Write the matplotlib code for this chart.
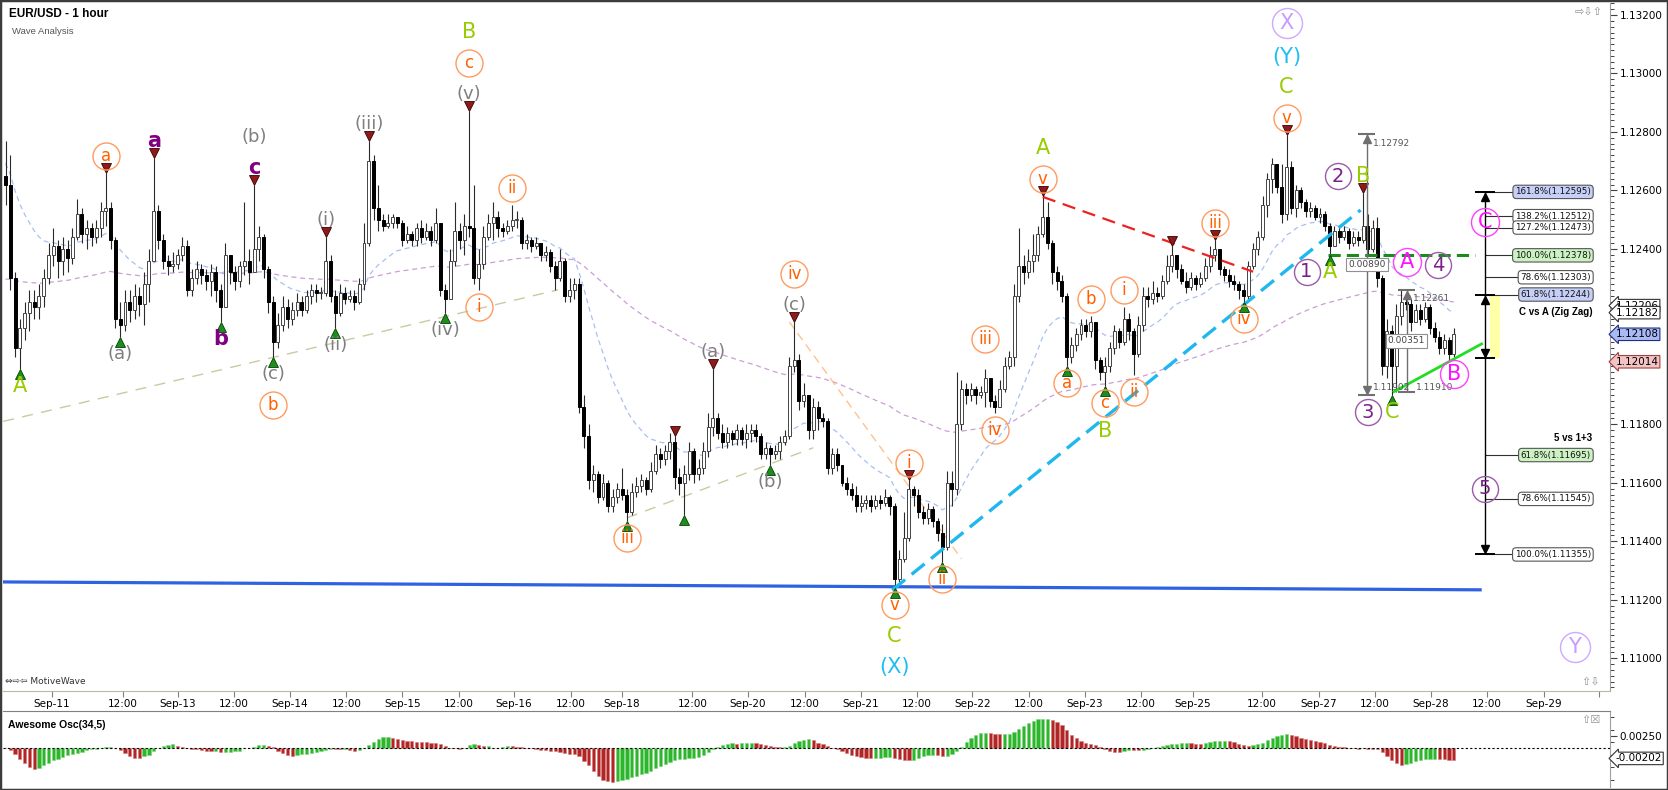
import matplotlib
matplotlib.use('Agg')
import matplotlib.pyplot as plt
import numpy as np
import pandas as pd
from matplotlib.patches import Rectangle
from matplotlib.ticker import MultipleLocator, FixedLocator
from matplotlib.transforms import offset_copy, blended_transform_factory

# ---------------- data : EUR/USD 1 hour, prices in 1/10000 (11262 = 1.1262)
open0 = 11265
close_p = [
    11262, 11230, 11206, 11213, 11218, 11222, 11220, 11224, 11230, 11238,
    11241, 11236, 11240, 11237, 11244, 11252, 11245, 11247, 11244, 11247,
    11253, 11254, 11243, 11216, 11214, 11222, 11219, 11224, 11221, 11228,
    11236, 11253, 11243, 11236, 11234, 11235, 11238, 11241, 11226, 11230,
    11233, 11231, 11229, 11232, 11226, 11220, 11238, 11232, 11229, 11234,
    11236, 11232, 11240, 11244, 11233, 11222, 11208, 11214, 11220, 11216,
    11219, 11222, 11219, 11224, 11226, 11225, 11225, 11236, 11224, 11218,
    11225, 11223, 11224, 11222, 11228, 11242, 11270, 11254, 11250, 11248,
    11249, 11251, 11249, 11243, 11245, 11243, 11247, 11244, 11246, 11243,
    11249, 11226, 11223, 11236, 11246, 11243, 11248, 11247, 11230, 11235,
    11244, 11249, 11251, 11247, 11246, 11248, 11250, 11250, 11242, 11243,
    11241, 11242, 11238, 11239, 11234, 11230, 11236, 11224, 11226, 11228,
    11186, 11176, 11161, 11163, 11155, 11160, 11152, 11155, 11158, 11156,
    11150, 11157, 11159, 11161, 11158, 11164, 11170, 11168, 11171, 11174,
    11162, 11160, 11163, 11171, 11163, 11165, 11171, 11179, 11182, 11177,
    11174, 11177, 11175, 11178, 11175, 11177, 11178, 11176, 11170, 11172,
    11170, 11171, 11174, 11176, 11200, 11202, 11188, 11190, 11178, 11186,
    11182, 11181, 11165, 11170, 11166, 11160, 11158, 11156, 11152, 11153,
    11154, 11152, 11154, 11153, 11155, 11152, 11127, 11134, 11141, 11158,
    11156, 11150, 11148, 11151, 11147, 11143, 11138, 11160, 11158, 11180,
    11192, 11190, 11192, 11190, 11191, 11196, 11188, 11186, 11192, 11200,
    11203, 11224, 11234, 11232, 11236, 11238, 11245, 11251, 11242, 11232,
    11229, 11224, 11203, 11207, 11211, 11214, 11212, 11215, 11202, 11198,
    11200, 11206, 11212, 11208, 11216, 11212, 11204, 11214, 11224, 11223,
    11225, 11224, 11229, 11234, 11238, 11233, 11229, 11227, 11230, 11228,
    11230, 11234, 11238, 11240, 11233, 11231, 11229, 11228, 11226, 11224,
    11234, 11240, 11244, 11255, 11264, 11269, 11261, 11252, 11268, 11254,
    11260, 11256, 11253, 11254, 11251, 11252, 11248, 11241, 11246, 11244,
    11246, 11242, 11244, 11243, 11248, 11240, 11247, 11230, 11200, 11212,
    11200, 11217, 11222, 11221, 11215, 11219, 11216, 11220, 11213, 11210,
    11206, 11209, 11204, 11211]
high_p = [
    11277, 11272, 11232, 11216, 11222, 11226, 11226, 11228, 11233, 11242,
    11247, 11243, 11244, 11243, 11247, 11257, 11254, 11250, 11249, 11250,
    11256, 11266, 11256, 11244, 11222, 11226, 11226, 11228, 11227, 11232,
    11240, 11271, 11255, 11245, 11238, 11239, 11240, 11244, 11243, 11233,
    11236, 11235, 11233, 11235, 11234, 11228, 11242, 11238, 11234, 11236,
    11256, 11240, 11262, 11248, 11245, 11234, 11224, 11218, 11224, 11223,
    11222, 11225, 11224, 11226, 11228, 11228, 11227, 11244, 11238, 11226,
    11228, 11227, 11226, 11226, 11230, 11249, 11277, 11272, 11262, 11252,
    11252, 11252, 11251, 11250, 11248, 11246, 11249, 11250, 11249, 11248,
    11254, 11249, 11228, 11240, 11256, 11249, 11252, 11287, 11262, 11240,
    11248, 11252, 11256, 11253, 11249, 11250, 11255, 11253, 11251, 11245,
    11244, 11244, 11242, 11241, 11240, 11236, 11240, 11237, 11230, 11230,
    11230, 11190, 11180, 11166, 11164, 11163, 11161, 11158, 11160, 11165,
    11158, 11160, 11162, 11163, 11162, 11167, 11173, 11172, 11173, 11177,
    11176, 11165, 11166, 11174, 11172, 11168, 11174, 11184, 11199, 11184,
    11180, 11179, 11178, 11180, 11179, 11180, 11180, 11180, 11177, 11174,
    11173, 11173, 11176, 11178, 11203, 11215, 11204, 11194, 11190, 11189,
    11188, 11184, 11182, 11172, 11172, 11166, 11162, 11160, 11159, 11156,
    11156, 11156, 11156, 11156, 11158, 11156, 11153, 11137, 11150, 11161,
    11159, 11158, 11152, 11153, 11152, 11148, 11146, 11164, 11164, 11198,
    11195, 11194, 11194, 11193, 11193, 11199, 11196, 11190, 11195, 11203,
    11205, 11228, 11247, 11238, 11240, 11245, 11248, 11258, 11256, 11243,
    11234, 11231, 11225, 11210, 11213, 11216, 11216, 11217, 11215, 11203,
    11203, 11208, 11214, 11213, 11220, 11218, 11213, 11217, 11227, 11227,
    11229, 11227, 11231, 11238, 11241, 11237, 11235, 11232, 11232, 11231,
    11232, 11237, 11241, 11243, 11240, 11234, 11233, 11231, 11229, 11228,
    11236, 11242, 11246, 11258, 11266, 11271, 11269, 11269, 11279, 11270,
    11262, 11261, 11257, 11256, 11255, 11254, 11253, 11249, 11248, 11248,
    11248, 11247, 11246, 11246, 11259, 11252, 11250, 11251, 11231, 11216,
    11214, 11221, 11226, 11224, 11223, 11221, 11221, 11222, 11221, 11215,
    11212, 11211, 11210, 11213]
low_p = [
    11255, 11226, 11203, 11199, 11209, 11212, 11216, 11216, 11220, 11228,
    11234, 11230, 11231, 11232, 11235, 11243, 11242, 11240, 11241, 11242,
    11244, 11248, 11240, 11213, 11210, 11212, 11215, 11216, 11217, 11214,
    11222, 11236, 11240, 11233, 11231, 11232, 11233, 11236, 11224, 11224,
    11228, 11228, 11226, 11224, 11222, 11215, 11220, 11228, 11226, 11227,
    11231, 11228, 11232, 11236, 11230, 11218, 11203, 11206, 11212, 11213,
    11214, 11217, 11217, 11218, 11221, 11222, 11223, 11224, 11222, 11213,
    11217, 11221, 11222, 11219, 11221, 11226, 11241, 11250, 11246, 11246,
    11247, 11247, 11247, 11241, 11242, 11241, 11241, 11242, 11243, 11241,
    11242, 11224, 11218, 11225, 11234, 11240, 11238, 11244, 11228, 11226,
    11233, 11243, 11243, 11244, 11244, 11245, 11246, 11247, 11240, 11240,
    11239, 11240, 11236, 11236, 11232, 11226, 11229, 11222, 11222, 11223,
    11184, 11172, 11158, 11157, 11153, 11154, 11150, 11150, 11153, 11154,
    11147, 11149, 11155, 11157, 11156, 11157, 11163, 11165, 11166, 11168,
    11158, 11156, 11149, 11161, 11160, 11161, 11163, 11169, 11176, 11175,
    11172, 11172, 11173, 11173, 11173, 11172, 11174, 11174, 11168, 11168,
    11166, 11168, 11168, 11173, 11175, 11198, 11185, 11186, 11175, 11175,
    11178, 11179, 11163, 11163, 11164, 11159, 11156, 11154, 11150, 11150,
    11151, 11150, 11151, 11151, 11152, 11149, 11124, 11126, 11133, 11140,
    11152, 11148, 11146, 11146, 11145, 11140, 11133, 11137, 11152, 11156,
    11178, 11187, 11188, 11187, 11189, 11186, 11186, 11184, 11186, 11191,
    11199, 11200, 11222, 11228, 11230, 11232, 11236, 11244, 11240, 11228,
    11226, 11222, 11200, 11201, 11205, 11209, 11210, 11210, 11199, 11195,
    11193, 11198, 11204, 11206, 11207, 11209, 11197, 11203, 11212, 11220,
    11221, 11222, 11223, 11228, 11232, 11230, 11228, 11225, 11226, 11226,
    11227, 11229, 11232, 11236, 11231, 11229, 11227, 11226, 11223, 11222,
    11223, 11233, 11238, 11243, 11251, 11259, 11259, 11249, 11250, 11252,
    11251, 11254, 11251, 11251, 11250, 11249, 11246, 11238, 11242, 11242,
    11243, 11240, 11241, 11241, 11242, 11238, 11239, 11227, 11197, 11196,
    11190, 11191, 11214, 11219, 11212, 11215, 11214, 11215, 11211, 11208,
    11204, 11204, 11202, 11203]

# moving average / oscillator seeds (level before the visible window)
ma_fast_seed = 1.1270
ma_slow_seed = 1.1229
ao_seed = 1.1265

date_tick_pos = [9.7, 24.5, 36.1, 47.8, 59.5, 71.3, 83.0, 94.8, 106.4, 118.3,
                 129.0, 143.7, 155.3, 167.2, 178.9, 190.6, 202.3, 214.1,
                 225.8, 237.6, 248.4, 262.9, 274.7, 286.5, 298.2, 309.9,
                 321.8, 333.4]
date_tick_lab = ['Sep-11', '12:00', 'Sep-13', '12:00', 'Sep-14', '12:00',
                 'Sep-15', '12:00', 'Sep-16', '12:00', 'Sep-18', '12:00',
                 'Sep-20', '12:00', 'Sep-21', '12:00', 'Sep-22', '12:00',
                 'Sep-23', '12:00', 'Sep-25', '12:00', 'Sep-27', '12:00',
                 'Sep-28', '12:00', 'Sep-29', '']

# pivots marked with triangles
pivot_hi = [21, 31, 52, 67, 76, 97, 140, 148, 165, 189, 217, 244, 253, 268, 284]
pivot_lo = [3, 24, 45, 56, 69, 92, 130, 142, 160, 186, 196, 222, 230, 259, 277, 290]

# wave labels: bar, side (h/l), stack level, x shift px, text, style
wave_tags = [
    (3, 'l', 0, 0, 'A', 'gl'), (21, 'h', 0, 0, 'a', 'oc'),
    (24, 'l', 0, 0, '(a)', 'gp'), (31, 'h', 0, 0, 'a', 'pl'),
    (45, 'l', 0, 0, 'b', 'pl'), (52, 'h', 0, 0, 'c', 'pl'),
    (52, 'h', 1, 0, '(b)', 'gp'), (56, 'l', 0, 0, '(c)', 'gp'),
    (56, 'l', 1, 0, 'b', 'oc'), (67, 'h', 0, 0, '(i)', 'gp'),
    (69, 'l', 0, 0, '(ii)', 'gp'), (76, 'h', 0, 0, '(iii)', 'gp'),
    (92, 'l', 0, 0, '(iv)', 'gp'), (97, 'h', 0, 0, '(v)', 'gp'),
    (97, 'h', 1, 0, 'c', 'oc'), (97, 'h', 2, 0, 'B', 'gl'),
    (99, 'l', 0, 0, 'i', 'oc'), (106, 'h', 0, 0, 'ii', 'oc'),
    (130, 'l', 0, 0, 'iii', 'oc'), (148, 'h', 0, 0, '(a)', 'gp'),
    (160, 'l', 0, 0, '(b)', 'gp'), (165, 'h', 0, 0, '(c)', 'gp'),
    (165, 'h', 1, 0, 'iv', 'oc'), (186, 'l', 0, 0, 'v', 'oc'),
    (186, 'l', 1, 0, 'C', 'gl'), (186, 'l', 2, 0, '(X)', 'cy'),
    (189, 'h', 0, 0, 'i', 'oc'), (196, 'l', 0, 0, 'ii', 'oc'),
    (205, 'h', 0.4, 0, 'iii', 'oc'), (207, 'l', 0, 0, 'iv', 'oc'),
    (217, 'h', 0, 0, 'v', 'oc'), (217, 'h', 1, 0, 'A', 'gl'),
    (222, 'l', 0, 0, 'a', 'oc'), (227, 'h', 0, 0, 'b', 'oc'),
    (230, 'l', 0, 0, 'c', 'oc'), (230, 'l', 0.9, 0, 'B', 'gl'),
    (234, 'h', 0, 0, 'i', 'oc'), (236, 'l', 0, 0, 'ii', 'oc'),
    (253, 'h', 0, 0, 'iii', 'oc'), (259, 'l', 0, 0, 'iv', 'oc'),
    (268, 'h', 0, 0, 'v', 'oc'), (268, 'h', 1, 0, 'C', 'gl'),
    (268, 'h', 1.95, 0, '(Y)', 'cy'), (268, 'h', 3.05, 0, 'X', 'lv'),
    (277, 'l', 0, 0, 'A', 'gl'), (277, 'l', 0, -23, '1', 'pn'),
    (284, 'h', 0, 0, 'B', 'gl'), (284, 'h', 0, -25, '2', 'pn'),
    (290, 'l', 0, 0, 'C', 'gl'), (290, 'l', 0, -24, '3', 'pn'),
    (292, 'h', 0.35, 6, 'A', 'mg'), (292, 'h', 0.25, 37, '4', 'pn'),
    (303, 'l', 0, 0, 'B', 'mg'),
]

# drawn lines (bar, price) pairs
support_line = ([-0.5, 308.5], [1.11261, 1.11234])
wedge_line_1 = ([-0.5, 115.6], [1.11810, 1.12260])
wedge_line_2 = ([130, 169], [1.11480, 1.11720])
peach_line = ([164, 200], [1.12150, 1.11340])
red_line = ([217, 261], [1.12578, 1.12322])
cyan_line = ([185.5, 283.5], [1.11233, 1.12533])
lime_line = ([290.5, 308.8], [1.11912, 1.12075])
wave_a_level = ([276.7, 307.4], [1.12378, 1.12378])

# measure tools
measure_a = (284.8, 1.12792, 1.11902, '0.00890')
measure_b = (293.1, 1.12261, 1.11910, '0.00351')

# fibonacci projections
fib_x = 309.5
zz_names = ['161.8%', '138.2%', '127.2%', '100.0%', '78.6%', '61.8%']
zz_levels = [1.12595, 1.12512, 1.12473, 1.12378, 1.12303, 1.12244]
w5_names = ['61.8%', '78.6%', '100.0%']
w5_levels = [1.11695, 1.11545, 1.11355]
w5_start = 1.12028

price_marks = [1.12206, 1.12182, 1.12108, 1.12014]
ao_last = -0.00202

# ---------------- arrays
close = np.array(close_p) / 10000
opens = np.r_[open0 / 10000, close[:-1]]
high = np.maximum(np.array(high_p) / 10000, np.maximum(opens, close))
low = np.minimum(np.array(low_p) / 10000, np.minimum(opens, close))
idx = np.arange(len(close))

# ---------------- figure
W, H = 1668, 790
BW, X0 = 4.78, 5.5   # px per bar, px of bar 0
fig = plt.figure(figsize=(W / 100, H / 100), dpi=100)


def box(l, t, r, b):
    return [l / W, 1 - b / H, (r - l) / W, (b - t) / H]


ax = fig.add_axes(box(3, 3, 1610, 691))
ax2 = fig.add_axes(box(3, 711, 1610, 787))
xlim = ((3 - X0) / BW, (1610 - X0) / BW)


def px(dx, dy, a=None):
    return offset_copy((a or ax).transData, fig=fig, x=dx, y=dy, units='dots')


# candles
up = close >= opens
ax.vlines(idx, low, high, color='#2a2a2a', lw=0.8, zorder=3)
bot = np.minimum(opens, close)
hgt = np.maximum(np.abs(close - opens), 0.00003)
ax.bar(idx[up], hgt[up], 0.62, bot[up], color='white', edgecolor='#444444',
       lw=0.7, zorder=4)
ax.bar(idx[~up], hgt[~up], 0.62, bot[~up], color='black', edgecolor='black',
       lw=0.7, zorder=4)

# moving averages
fast = pd.Series(np.r_[ma_fast_seed, close]).ewm(span=20, adjust=False).mean().values[1:]
slow = pd.Series(np.r_[ma_slow_seed, close]).ewm(span=100, adjust=False).mean().values[1:]
ax.plot(idx, fast, color='#A8C0F2', lw=0.9, ls=(0, (4, 3)), zorder=2)
ax.plot(idx, slow, color='#CC9ED6', lw=0.9, ls=(0, (4, 3)), zorder=2)

# trend lines
ax.plot(*support_line, color='#2F62E2', lw=2.3, zorder=2)
ax.plot(*wedge_line_1, color='#CACAA2', lw=1, ls=(0, (8, 6)), zorder=2)
ax.plot(*wedge_line_2, color='#CACAA2', lw=1, ls=(0, (8, 6)), zorder=2)
ax.plot(*peach_line, color='#FFC28E', lw=1, ls=(0, (6, 4)), zorder=2)
ax.plot(*red_line, color='#EE2020', lw=1.6, ls=(0, (6, 3.5)), zorder=5)
ax.plot(*cyan_line, color='#1FB8EE', lw=2.4, ls=(0, (5, 2.5)), zorder=5)
ax.plot(*lime_line, color='#22DD22', lw=2, zorder=5)
ax.plot(*wave_a_level, color='#1C8A1C', lw=2.2, ls=(0, (4, 2)), zorder=5)

# pivot triangles
ax.plot(pivot_hi, high[pivot_hi], 'v', ms=7, mfc='#8E1B1B', mec='#3A0000',
        mew=0.6, transform=px(0, 5), zorder=6)
ax.plot(pivot_lo, low[pivot_lo], '^', ms=7, mfc='#1E8C1E', mec='#004400',
        mew=0.6, transform=px(0, -5), zorder=6)

STY = {
    'oc': dict(color='#FF6000', size=12, ring='#FF9B5E', d=27),
    'gp': dict(color='#7F7F7F', size=13),
    'pl': dict(color='#800080', size=15, weight='bold'),
    'gl': dict(color='#99CC00', size=15),
    'cy': dict(color='#20BDF0', size=15),
    'lv': dict(color='#C79BFF', size=15, ring='#CDAAFF', d=30),
    'pn': dict(color='#7A1F8A', size=14, ring='#9C5AAA', d=26),
    'mg': dict(color='#FF10FF', size=15, ring='#FF40FF', d=28),
}


def tag(x, y, dx, dy, text, st):
    s = STY[st]
    ax.text(x, y, text, transform=px(dx, dy), ha='center', va='center',
            color=s['color'], fontsize=s['size'],
            fontweight=s.get('weight', 'normal'), zorder=7, clip_on=False)
    if 'ring' in s:
        ax.plot([x], [y], 'o', ms=s['d'] * 0.72, mfc='none', mec=s['ring'],
                mew=1, transform=px(dx, dy), zorder=7, clip_on=False)


for b, side, lev, dx, text, st in wave_tags:
    if side == 'h':
        tag(b, high[b], dx, 17 + 31 * lev, text, st)
    else:
        tag(b, low[b], dx, -(17 + 31 * lev), text, st)

# measure tools
for mx, top, bottom, diff in (measure_a, measure_b):
    ax.vlines(mx, bottom, top, color='#707070', lw=1, zorder=6)
    ax.hlines([top], mx - 1.8, mx + 1.8, color='#707070', lw=1.5, zorder=6)
    ax.plot(mx, top, '^', ms=6, color='#707070', transform=px(0, -5), zorder=6)
    ax.text(mx + 1.3, top, f'{top:.5f}', transform=px(0, -9), fontsize=6.5,
            color='#555555', va='center', ha='left', zorder=6)
    ax.text(mx, (top + bottom) / 2, diff, ha='center', va='center',
            fontsize=6.5, color='#444444', zorder=8,
            bbox=dict(boxstyle='square,pad=0.25', fc='white', ec='#909090', lw=0.8))
mxa, _, bot_a, _ = measure_a
ax.hlines([bot_a], mxa - 1.8, mxa + 1.8, color='#707070', lw=1.5, zorder=6)
ax.plot(mxa, bot_a, 'v', ms=6, color='#707070', transform=px(0, 5), zorder=6)
ax.text(mxa + 1.2, bot_a, f'{bot_a:.5f}', transform=px(0, 7), fontsize=6.5,
        color='#555555', va='center', ha='left', zorder=6)
mxb, _, bot_b, _ = measure_b
ax.hlines([bot_b], mxb - 1.8, mxb + 1.8, color='#707070', lw=1.5, zorder=6)
ax.text(mxb + 1.9, bot_b, f'{bot_b:.5f}', transform=px(0, 5), fontsize=6.5,
        color='#555555', va='center', ha='left', zorder=6)

# fibonacci tools
ax.add_patch(Rectangle((310.6, w5_start), 2.1, zz_levels[-1] - w5_start,
                       fc='#FFFFA8', ec='none', zorder=2))
ax.vlines(fib_x, w5_levels[-1], zz_levels[0], color='black', lw=1, zorder=6)
ax.hlines([zz_levels[0], zz_levels[-1], w5_start, w5_levels[-1]],
          fib_x - 2.1, fib_x + 2.1, color='black', lw=1.4, zorder=6)
for lv, mk, dy in ((zz_levels[0], '^', -5), (zz_levels[-1], '^', -5),
                   (w5_start, 'v', 5), (w5_levels[-1], 'v', 5)):
    ax.plot(fib_x, lv, mk, ms=6, color='black', transform=px(0, dy), zorder=6)
fib_lab_x = (1591 - X0) / BW
zz_fill = ['#C5CFF7', 'white', 'white', '#CCF2C4', 'white', '#C5CFF7']
w5_fill = ['#CCF2C4', 'white', 'white']
for names, levels, fills in ((zz_names, zz_levels, zz_fill),
                             (w5_names, w5_levels, w5_fill)):
    ax.hlines(levels, fib_x, 322, color='#303030', lw=0.8, zorder=5)
    for n, lv, fc in zip(names, levels, fills):
        ax.text(fib_lab_x, lv, f'{n}({lv:.5f})', ha='right', va='center',
                fontsize=6.3, color='#111111', zorder=8,
                bbox=dict(boxstyle='round,pad=0.25,rounding_size=0.4',
                          fc=fc, ec='#555555', lw=0.8))
ax.text(fib_lab_x + 0.3, zz_levels[-1], 'C vs A (Zig Zag)', transform=px(0, -17),
        ha='right', va='center', fontsize=7, fontweight='bold',
        family='Liberation Sans', zorder=8)
ax.text(fib_lab_x + 0.3, w5_levels[0], '5 vs 1+3', transform=px(0, 17),
        ha='right', va='center', fontsize=7, fontweight='bold',
        family='Liberation Sans', zorder=8)
tag(fib_x, (zz_levels[1] + zz_levels[2]) / 2, 0, 0, 'C', 'mg')
tag(fib_x, w5_levels[1], 0, 10, '5', 'pn')
ax.text(0.978, 0.064, 'Y', transform=ax.transAxes, ha='center', va='center',
        color=STY['lv']['color'], fontsize=15, zorder=7)
ax.plot([0.978], [0.064], 'o', ms=30 * 0.72, mfc='none', mec=STY['lv']['ring'],
        mew=1, transform=ax.transAxes, zorder=7)

# axes styling : main
ax.set_xlim(*xlim)
ax.set_ylim(1.10888, 1.13241)
ax.set_autoscale_on(False)
ax.yaxis.tick_right()
yt = np.arange(1.110, 1.1321, 0.002)
ax.set_yticks(yt)
# the 1.12200 / 1.12000 labels sit under the price markers
ax.set_yticklabels(['' if abs(v - 1.122) < 1e-6 or abs(v - 1.120) < 1e-6
                    else f'{v:.5f}' for v in yt])
ax.yaxis.set_minor_locator(MultipleLocator(0.0002))
ax.tick_params(axis='y', which='major', direction='out', length=5, width=0.8,
               color='#404040', labelsize=7.5, pad=2)
ax.tick_params(axis='y', which='minor', direction='out', length=3, width=0.7,
               color='#404040')
ax.set_xticks(date_tick_pos)
ax.set_xticklabels(date_tick_lab)
ax.tick_params(axis='x', direction='out', length=4, width=0.8, color='#808080',
               labelsize=7.5, pad=1.5)
for s in ('top', 'left'):
    ax.spines[s].set_visible(False)
ax.spines['bottom'].set_color('#B8B8A8')
ax.spines['right'].set_color('#A0A0A0')

# price markers on the axis
mark_fill = ['white', 'white', '#A9B9F5', '#F2C4C4']
mark_edge = ['#333333', '#333333', '#203080', '#A04040']
tr = blended_transform_factory(ax.transAxes, ax.transData)
for v, fc, ec in zip(price_marks, mark_fill, mark_edge):
    ax.text(1.0035, v, f'{v:.5f}', transform=tr, ha='left', va='center',
            fontsize=7.5, zorder=9, clip_on=False,
            bbox=dict(boxstyle='larrow,pad=0.12', fc=fc, ec=ec, lw=0.8))

# oscillator
med = (high + low) / 2
med_ext = pd.Series(np.r_[np.full(34, ao_seed), med])
ao = (med_ext.rolling(5).mean() - med_ext.rolling(34).mean()).values[34:]
rising = np.r_[False, np.diff(ao) > 0]
ax2.bar(idx, ao, 0.68, color=np.where(rising, '#2DB52D', '#B02626'),
        edgecolor=np.where(rising, '#7ED87E', '#D87A7A'), lw=0.4)
ax2.axhline(0, color='black', lw=0.8, ls=(0, (2, 2)))
ax2.set_xlim(*xlim)
ax2.set_ylim(-0.00774, 0.00746)
ax2.set_xticks([])
ax2.yaxis.tick_right()
ax2.yaxis.set_major_locator(FixedLocator([0.0025]))
ax2.set_yticklabels(['0.00250'])
ax2.yaxis.set_minor_locator(FixedLocator([0.00625, 0.00375, 0.00125, -0.00125,
                                          -0.00375, -0.00625]))
ax2.tick_params(axis='y', which='major', direction='out', length=5, width=0.8,
                color='#404040', labelsize=7.5, pad=2)
ax2.tick_params(axis='y', which='minor', direction='out', length=3, width=0.7,
                color='#404040')
for s in ('left', 'bottom'):
    ax2.spines[s].set_visible(False)
ax2.spines['top'].set_color('#808080')
ax2.spines['right'].set_color('#A0A0A0')
tr2 = blended_transform_factory(ax2.transAxes, ax2.transData)
ax2.text(1.0035, ao_last, f'{ao_last:.5f}', transform=tr2, ha='left',
         va='center', fontsize=7.5, clip_on=False,
         bbox=dict(boxstyle='larrow,pad=0.12', fc='white', ec='#333333', lw=0.8))

# texts
fig.text(9 / W, 1 - 14 / H, 'EUR/USD - 1 hour', fontsize=8.5, fontweight='bold',
         family='Liberation Sans', va='center', ha='left')
fig.text(12 / W, 1 - 31 / H, 'Wave Analysis', fontsize=6.8, color='#555555',
         family='Liberation Sans', va='center', ha='left')
fig.text(8 / W, 1 - 725 / H, 'Awesome Osc(34,5)', fontsize=7.5, fontweight='bold',
         family='Liberation Sans', va='center', ha='left')
fig.text(5 / W, 1 - 682 / H, '\u21d4\u21e8\u21e6 MotiveWave', fontsize=6.5,
         color='#333333', va='center', ha='left')
fig.text(1603 / W, 1 - 12 / H, '\u21e8\u21e9\u21e7', fontsize=8, color='#909090',
         va='center', ha='right')
fig.text(1600 / W, 1 - 682 / H, '\u21e7\u21e9', fontsize=8, color='#909090',
         va='center', ha='right')
fig.text(1600 / W, 1 - 720 / H, '\u21e7\u2612', fontsize=8, color='#909090',
         va='center', ha='right')

fig.add_artist(Rectangle((0, 0), 1, 1, transform=fig.transFigure, fill=False,
                         ec='#3C3C3C', lw=2.5))

fig.savefig('out.png', dpi=100, facecolor='white')
